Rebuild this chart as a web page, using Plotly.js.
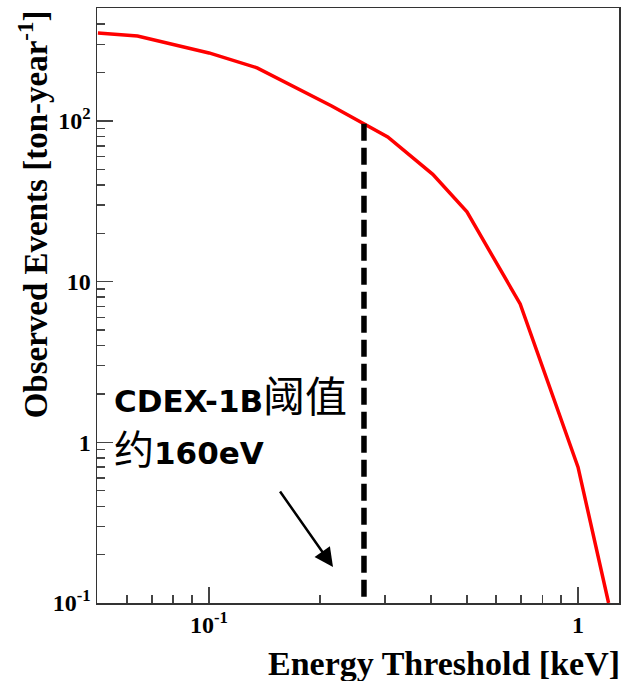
<!DOCTYPE html>
<html>
<head>
<meta charset="utf-8">
<script src="https://cdn.plot.ly/plotly-3.0.1.min.js"></script>
<style>html,body{margin:0;padding:0;background:#fff;}#chart{width:623px;height:681px;}</style>
</head>
<body>
<div id="chart"></div>
<script>
// Energy threshold (keV) and observed events (ton-year^-1)
const energyKeV = [0.05, 0.064, 0.1, 0.135, 0.215, 0.305, 0.404, 0.5, 0.697, 1.0, 1.21];
const events    = [353, 338, 265, 214, 124, 79.5, 46.5, 27.2, 7.26, 0.70, 0.1];

// CDEX-1B threshold marker
const thresholdX = [0.263, 0.263];
const thresholdY = [96, 0.1];

// Axis ticks
const xTickVals = [0.1, 1];
const xTickText = ['10<sup>-1</sup>', '1'];
const xMinorVals = [0.06, 0.07, 0.08, 0.09, 0.2, 0.3, 0.4, 0.5, 0.6, 0.7, 0.8, 0.9];
const yTickVals = [0.1, 1, 10, 100];
const yTickText = ['10<sup>-1</sup>', '1', '10', '10<sup>2</sup>'];
const yMinorVals = [0.2, 0.3, 0.4, 0.5, 0.6, 0.7, 0.8, 0.9, 2, 3, 4, 5, 6, 7, 8, 9,
                    20, 30, 40, 50, 60, 70, 80, 90, 200, 300, 400, 500];

const serifFamily = 'Liberation Serif, Times New Roman, serif';
const tickFont = {family: serifFamily, size: 24, color: '#000', weight: 'bold'};

const traces = [
  {x: energyKeV, y: events, type: 'scatter', mode: 'lines',
   line: {color: '#ff0000', width: 3.5}, hoverinfo: 'skip', showlegend: false},
  {x: thresholdX, y: thresholdY, type: 'scatter', mode: 'lines',
   line: {color: '#000', width: 5.5, dash: '17px,7px'}, hoverinfo: 'skip', showlegend: false}
];

const axisCommon = {
  type: 'log', showgrid: false, zeroline: false,
  showline: true, mirror: true, linecolor: '#333', linewidth: 1.5,
  ticks: 'inside', ticklen: 16, tickwidth: 1.5, tickcolor: '#444',
  tickmode: 'array', tickfont: tickFont
};

const layout = {
  width: 623, height: 681,
  margin: {l: 97, r: 4, t: 8, b: 78},
  paper_bgcolor: '#fff', plot_bgcolor: '#fff',
  xaxis: Object.assign({}, axisCommon, {
    range: [-1.3035, 0.111],
    tickvals: xTickVals, ticktext: xTickText,
    minor: {tickmode: 'array', tickvals: xMinorVals, ticks: 'inside', ticklen: 8, tickwidth: 1.5, tickcolor: '#444', showgrid: false}
  }),
  yaxis: Object.assign({}, axisCommon, {
    range: [-1, 2.703],
    tickvals: yTickVals, ticktext: yTickText,
    minor: {tickmode: 'array', tickvals: yMinorVals, ticks: 'inside', ticklen: 8, tickwidth: 1.5, tickcolor: '#444', showgrid: false}
  }),
  annotations: [
    {xref: 'paper', yref: 'paper', x: 1.006, y: -0.102, xanchor: 'right', yanchor: 'middle',
     text: 'Energy Threshold [keV]', showarrow: false,
     font: {family: serifFamily, size: 34, color: '#000', weight: 'bold'}},
    {xref: 'paper', yref: 'paper', x: -0.122, y: 1.0, xanchor: 'center', yanchor: 'top',
     text: 'Observed Events [ton-year<sup>-1</sup>]', showarrow: false, textangle: -90,
     font: {family: serifFamily, size: 33, color: '#000', weight: 'bold'}},
    {xref: 'paper', yref: 'paper', x: 0.029, y: 0.345, xanchor: 'left', yanchor: 'middle',
     text: '<b>CDEX-1B</b><span style="font-size:42px">阈值</span>', showarrow: false,
     font: {family: 'DejaVu Sans, Noto Sans CJK SC, sans-serif', size: 31, color: '#000'}},
    {xref: 'paper', yref: 'paper', x: 0.029, y: 0.257, xanchor: 'left', yanchor: 'middle',
     text: '<span style="font-size:40px">约</span><b>160eV</b>', showarrow: false,
     font: {family: 'DejaVu Sans, Noto Sans CJK SC, sans-serif', size: 31, color: '#000'}},
    {xref: 'paper', yref: 'paper', x: 0.4521, y: 0.0605, ax: -54, ay: -77, axref: 'pixel', ayref: 'pixel',
     text: '', showarrow: true, arrowhead: 2, arrowsize: 1.5, arrowwidth: 2.5, arrowcolor: '#000'}
  ]
};

Plotly.newPlot('chart', traces, layout, {staticPlot: true, displayModeBar: false});
</script>
</body>
</html>
